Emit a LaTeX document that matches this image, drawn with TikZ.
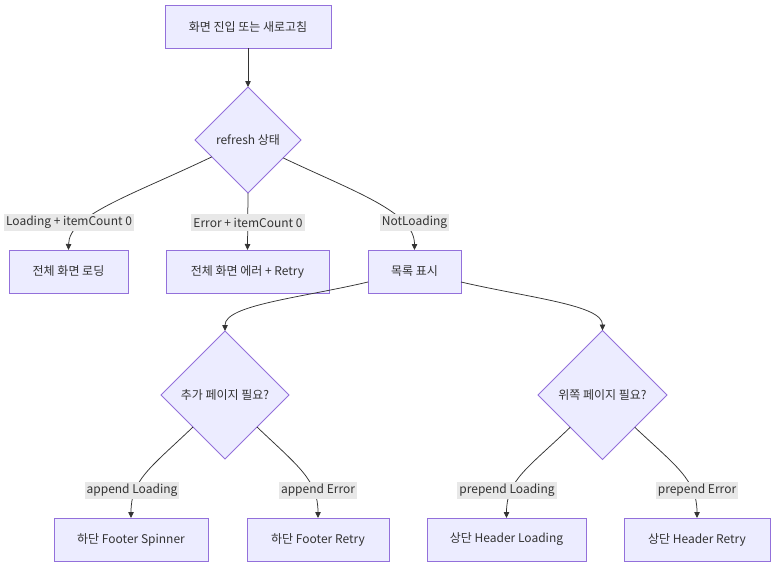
\documentclass[tikz,border=0pt]{standalone}
\usepackage{fontspec}
\setmainfont{Noto Sans CJK KR}
\usetikzlibrary{arrows.meta, positioning, shapes.geometric}
\definecolor{nodeFill}{HTML}{ECECFF}
\definecolor{nodeBorder}{HTML}{9370DB}
\definecolor{edgeColor}{HTML}{333333}
\definecolor{labelBg}{HTML}{E8E8E8}
\definecolor{textColor}{HTML}{333333}

\begin{document}
\begin{tikzpicture}[
    x=1pt, y=-1pt,
    font=\fontsize{12}{14}\selectfont,
    flowbox/.style={
        draw=nodeBorder, fill=nodeFill, line width=0.8pt,
        minimum height=43pt, inner sep=2pt, outer sep=0pt,
        align=center, text=textColor
    },
    decision/.style={
        diamond, draw=nodeBorder, fill=nodeFill, line width=0.8pt,
        inner sep=0pt, outer sep=0pt, aspect=1,
        align=center, text=textColor
    },
    edgelabel/.style={
        fill=labelBg, inner xsep=2pt, inner ysep=0pt,
        minimum height=17pt, text=textColor
    },
    flowarrow/.style={
        -{Triangle[length=6pt,width=5.5pt]},
        edgeColor, line width=0.75pt
    },
]
\useasboundingbox (0,0) rectangle (784,573);

% ============================================================
%  NODES
% ============================================================
\node[flowbox, minimum width=166pt] (enter) at (248,26.5) {화면 진입 또는 새로고침};
\node[decision, minimum size=106pt] (refresh) at (248,140) {refresh 상태};

\node[flowbox, minimum width=119pt] (fullLoad) at (68.5,271.5) {전체 화면 로딩};
\node[flowbox, minimum width=163pt] (fullError) at (247.5,271.5) {전체 화면 에러 + Retry};
\node[flowbox, minimum width=93pt] (list) at (414.5,271.5) {목록 표시};

\node[decision, minimum size=128pt] (needAppend) at (225,395) {추가 페이지 필요?};
\node[decision, minimum size=129pt] (needPrepend) at (602.5,395) {위쪽 페이지 필요?};

\node[flowbox, minimum width=154pt] (footSpin) at (131,539.5) {하단 Footer Spinner};
\node[flowbox, minimum width=142pt] (footRetry) at (318,539.5) {하단 Footer Retry};
\node[flowbox, minimum width=159pt] (headLoad) at (506.5,539.5) {상단 Header Loading};
\node[flowbox, minimum width=146pt] (headRetry) at (697,539.5) {상단 Header Retry};

% ============================================================
%  EDGES
% ============================================================
\draw[flowarrow] (enter.south) -- (refresh.north);

\draw[flowarrow] (refresh.205) .. controls (130,196) and (69,215) .. (fullLoad.north);
\draw[flowarrow] (refresh.south) -- (fullError.north);
\draw[flowarrow] (refresh.333) .. controls (355,192) and (414.5,212) .. (list.north);

\draw[flowarrow] ([yshift=11pt]list.south west) .. controls (300,298) and (225,305) .. (needAppend.north);
\draw[flowarrow] ([yshift=11pt]list.south east) .. controls (530,298) and (602.5,305) .. (needPrepend.north);

\draw[flowarrow] (needAppend.225) .. controls (150,468) and (131,480) .. (footSpin.north);
\draw[flowarrow] (needAppend.315) .. controls (298,466) and (318,480) .. (footRetry.north);
\draw[flowarrow] (needPrepend.225) .. controls (528,468) and (506.5,480) .. (headLoad.north);
\draw[flowarrow] (needPrepend.315) .. controls (676,466) and (697,480) .. (headRetry.north);

% ============================================================
%  EDGE LABELS
% ============================================================
\node[edgelabel] (lblLoad) at (69,222.5) {Loading + itemCount 0};
\node[edgelabel] (lblError) at (248,222.5) {Error + itemCount 0};
\node[edgelabel] (lblNot) at (414.5,222.5) {NotLoading};

\node[edgelabel] (lblAppLoad) at (132,490.5) {append Loading};
\node[edgelabel] (lblAppErr) at (318,490.5) {append Error};
\node[edgelabel] (lblPreLoad) at (507,490.5) {prepend Loading};
\node[edgelabel] (lblPreErr) at (697,490.5) {prepend Error};

\end{tikzpicture}
\end{document}
